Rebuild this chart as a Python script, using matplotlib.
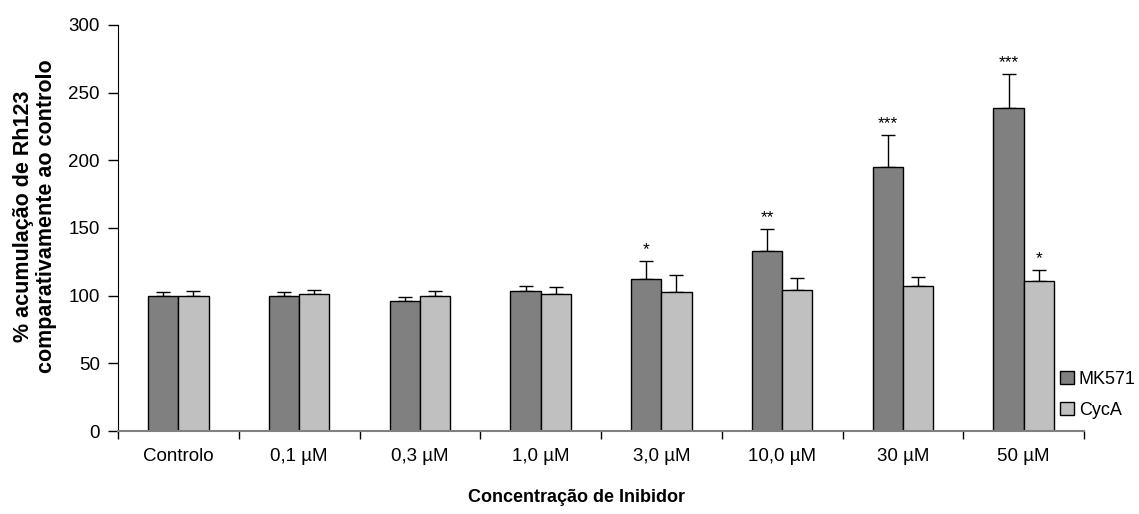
import matplotlib
matplotlib.use("Agg")
import matplotlib.pyplot as plt
import numpy as np

categories = ["Controlo", "0,1 µM", "0,3 µM", "1,0 µM", "3,0 µM", "10,0 µM", "30 µM", "50 µM"]
mk571 = [100, 100, 96, 103.5, 112.5, 133, 195, 238.5]
mk571_err = [2.5, 2.5, 3, 4, 13, 16.5, 23.5, 25]
cyca = [100, 101, 100, 101.5, 102.5, 104, 107, 111]
cyca_err = [3.5, 3.5, 3.5, 4.8, 12.5, 9, 7, 8]
mk571_sig = ["", "", "", "", "*", "**", "***", "***"]
cyca_sig = ["", "", "", "", "", "", "", "*"]
yticks = [0, 50, 100, 150, 200, 250, 300]

plt.rcParams['font.family'] = ['Liberation Sans', 'DejaVu Sans']

fig = plt.figure(figsize=(11.39, 5.14), dpi=100)
ax = fig.add_axes([118/1139, 1-431/514, (1084-118)/1139, (431-25)/514])

x = np.arange(len(categories))
w = 0.25
ax.bar(x - w/2, mk571, w, color="#808080", edgecolor="black", linewidth=1, label="MK571", zorder=2)
ax.bar(x + w/2, cyca, w, color="#C0C0C0", edgecolor="black", linewidth=1, label="CycA", zorder=2)
ax.errorbar(x - w/2, mk571, yerr=[np.zeros(len(x)), mk571_err], fmt="none", ecolor="black",
            elinewidth=1, capsize=5, capthick=1, zorder=1)
ax.errorbar(x + w/2, cyca, yerr=[np.zeros(len(x)), cyca_err], fmt="none", ecolor="black",
            elinewidth=1, capsize=5, capthick=1, zorder=1)

for i in range(len(x)):
    if mk571_sig[i]:
        ax.annotate(mk571_sig[i], (x[i] - w/2, mk571[i] + mk571_err[i]), xytext=(0, 5),
                    textcoords="offset points", ha="center", va="baseline", fontsize=12.5)
    if cyca_sig[i]:
        ax.annotate(cyca_sig[i], (x[i] + w/2, cyca[i] + cyca_err[i]), xytext=(0, 5),
                    textcoords="offset points", ha="center", va="baseline", fontsize=12.5)

ax.set_xlim(-0.5, len(categories) - 0.5)
ax.set_ylim(0, 300)
ax.set_yticks(yticks)
ax.set_yticklabels([str(v) for v in yticks], fontsize=13.5)
ax.set_xticks(x)
ax.set_xticklabels(categories, fontsize=13.5)
ax.tick_params(axis="x", length=0, pad=12)
ax.set_xticks(np.arange(len(categories) + 1) - 0.5, minor=True)
ax.tick_params(axis="x", which="minor", length=6, width=1, color="black")
ax.tick_params(axis="y", length=7, width=1, direction="out", pad=6)

ax.spines["top"].set_visible(False)
ax.spines["right"].set_visible(False)
ax.spines["bottom"].set_color("#808080")
ax.spines["bottom"].set_linewidth(1.5)

fig.text(35/1139, 1-216/514, "% acumulação de Rh123\ncomparativamente ao controlo",
         rotation=90, ha="center", va="center", multialignment="center",
         fontsize=15.5, fontweight="bold", linespacing=1.15)
fig.text(577/1139, 1-497/514, "Concentração de Inibidor", ha="center", va="center",
         fontsize=13, fontweight="bold")

fig.legend(loc="upper left", bbox_to_anchor=(1060/1139, 1-371/514), frameon=False,
           fontsize=13, handlelength=0.75, handleheight=0.75, handletextpad=0.3,
           labelspacing=0.75, borderaxespad=0, borderpad=0)

fig.savefig("out.png", dpi=100)
